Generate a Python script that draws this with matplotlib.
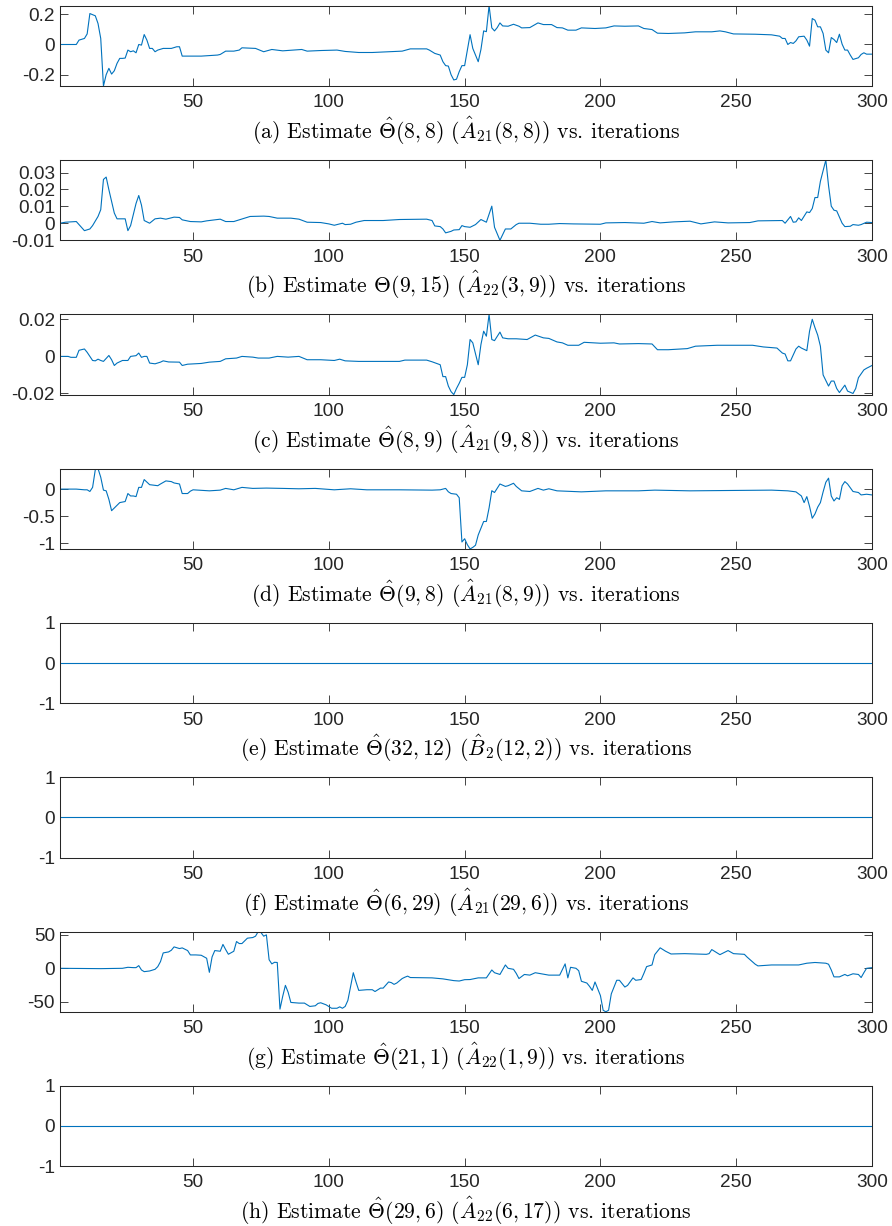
import numpy as np
import matplotlib
matplotlib.use("Agg")
import matplotlib.pyplot as plt
from matplotlib.ticker import FixedLocator, FuncFormatter

plt.rcParams["mathtext.fontset"] = "cm"
plt.rcParams["axes.unicode_minus"] = False
plt.rcParams["font.family"] = ["Liberation Sans", "DejaVu Sans"]

# ---- estimates per iteration (iteration index, value) ----
it_a = [1, 7, 8, 10, 11, 12, 14, 15, 16, 17, 18, 19, 20, 21, 22, 23, 24, 25, 26, 27, 28, 29, 30,
        31, 32, 33, 34, 35, 36, 37, 39, 42, 44, 45, 46, 48, 53, 59, 60, 62, 65, 67, 68, 73, 76, 79,
        83, 87, 90, 92, 97, 103, 106, 111, 116, 122, 127, 130, 136, 137, 139, 141, 142, 143, 144,
        145, 146, 147, 148, 149, 150, 152, 153, 155, 156, 157, 158, 159, 160, 161, 162, 163, 164,
        166, 168, 170, 171, 174, 177, 179, 182, 184, 186, 188, 191, 193, 198, 202, 205, 209, 214,
        216, 219, 221, 225, 231, 235, 241, 244, 246, 249, 257, 263, 266, 267, 268, 269, 270, 271,
        272, 273, 275, 276, 277, 278, 279, 280, 281, 282, 283, 284, 285, 286, 287, 288, 289, 290,
        291, 292, 293, 295, 296, 297, 298, 300]
theta_a = [0, 0, 0.029, 0.04, 0.07, 0.205, 0.19, 0.139, 0.04, -0.275, -0.20, -0.158, -0.196, -0.174,
           -0.125, -0.092, -0.092, -0.090, -0.037, -0.048, -0.042, -0.055, 0.0, -0.004, 0.066, 0.029,
           -0.026, -0.026, -0.048, -0.037, -0.026, -0.026, -0.015, -0.015, -0.077, -0.077, -0.077,
           -0.070, -0.066, -0.044, -0.044, -0.037, -0.022, -0.026, -0.048, -0.033, -0.042, -0.037,
           -0.033, -0.044, -0.040, -0.037, -0.046, -0.053, -0.053, -0.048, -0.044, -0.029, -0.029,
           -0.037, -0.059, -0.07, -0.114, -0.14, -0.143, -0.20, -0.235, -0.23, -0.18, -0.14, -0.14,
           0.065, -0.026, -0.114, -0.033, 0.09, 0.085, 0.257, 0.11, 0.09, 0.112, 0.143, 0.123, 0.121,
           0.134, 0.121, 0.110, 0.112, 0.143, 0.132, 0.132, 0.112, 0.110, 0.095, 0.095, 0.110, 0.106,
           0.110, 0.123, 0.121, 0.123, 0.106, 0.099, 0.075, 0.073, 0.077, 0.084, 0.084, 0.09, 0.084,
           0.07, 0.068, 0.064, 0.055, 0.040, 0.040, 0.0, 0.013, 0.007, 0.024, 0.051, 0.055, 0.029,
           -0.011, 0.172, 0.161, 0.117, 0.117, 0.073, -0.037, -0.055, 0.046, 0.033, 0.013, 0.068,
           0.002, -0.037, -0.037, -0.07, -0.099, -0.088, -0.066, -0.055, -0.064, -0.064]

it_b = [1, 3, 7, 10, 12, 13, 15, 16, 17, 18, 19, 21, 22, 23, 25, 26, 27, 29, 30, 31, 32, 34, 36,
        38, 40, 43, 45, 46, 49, 53, 55, 60, 62, 65, 67, 71, 76, 78, 81, 86, 89, 92, 97, 100, 102,
        105, 106, 108, 110, 113, 120, 126, 136, 138, 139, 141, 142, 143, 145, 146, 148, 149, 150,
        152, 154, 156, 158, 160, 161, 163, 165, 167, 169, 170, 174, 178, 181, 185, 190, 200, 202,
        209, 216, 219, 222, 227, 233, 237, 242, 247, 255, 258, 267, 268, 270, 271, 272, 273, 274,
        276, 277, 278, 279, 280, 281, 283, 284, 285, 286, 287, 289, 290, 292, 293, 295, 296, 298, 300]
theta_b = [0, 0.0006, 0.001, -0.0044, -0.0034, -0.0014, 0.004, 0.008, 0.0259, 0.0273, 0.0198, 0.006,
           0.0026, 0.0026, 0.0026, -0.0044, -0.0014, 0.0117, 0.0164, 0.0107, 0.0016, 0.0, 0.0026,
           0.003, 0.0024, 0.0036, 0.0034, 0.002, 0.001, 0.0008, 0.0014, 0.0024, 0.001, 0.001, 0.002,
           0.004, 0.0042, 0.004, 0.003, 0.003, 0.0024, 0.0006, 0.0004, -0.0004, -0.0012, 0.0, -0.0008,
           -0.0006, 0.0006, 0.0016, 0.0016, 0.0022, 0.0024, 0.0016, -0.0016, -0.002, -0.0034, -0.0057,
           -0.0048, -0.004, -0.0038, -0.0014, -0.002, -0.0024, -0.0008, 0.0022, 0.0006, 0.0101,
           -0.0024, -0.0101, -0.0034, -0.0034, -0.0008, 0.0, 0.0, -0.0006, -0.0006, -0.0002, -0.0004,
           -0.0006, 0.0002, 0.0004, 0.0, 0.001, 0.0002, 0.0008, 0.0012, -0.0004, 0.0008, 0.0002,
           0.0004, 0.0014, 0.0016, 0.0, 0.004, 0.0006, 0.0008, 0.0032, 0.0016, 0.0067, 0.0063, 0.0087,
           0.0152, 0.0152, 0.0248, 0.0374, 0.0222, 0.0101, 0.0077, 0.0073, 0.0, -0.002, -0.0018,
           -0.0008, -0.0012, -0.0008, 0.0006, 0.0004]

it_c = [1, 4, 5, 7, 8, 10, 11, 13, 14, 15, 16, 17, 19, 20, 21, 22, 24, 26, 27, 29, 30, 31, 32, 33,
        34, 36, 38, 39, 41, 45, 46, 48, 53, 56, 60, 62, 66, 68, 72, 74, 78, 81, 85, 89, 92, 97, 102,
        104, 106, 111, 120, 126, 128, 136, 138, 141, 142, 143, 144, 145, 146, 147, 148, 149, 150,
        151, 152, 153, 155, 156, 157, 158, 159, 160, 161, 163, 164, 166, 169, 173, 176, 179, 181,
        184, 186, 188, 192, 194, 200, 205, 207, 214, 219, 221, 225, 232, 235, 243, 256, 260, 265,
        267, 268, 269, 270, 272, 273, 274, 276, 277, 278, 279, 280, 281, 282, 284, 285, 286, 287,
        288, 290, 291, 293, 294, 295, 297, 298, 300]
theta_c = [0, 0, -0.0005, -0.0005, 0.0033, 0.004, 0.0022, -0.0022, -0.0024, -0.0015, -0.0022,
           -0.0027, 0.0005, -0.0018, -0.0049, -0.0036, -0.0022, -0.0022, 0.0, 0.0004, 0.0018,
           -0.0005, 0.0, 0.0, -0.0036, -0.004, -0.0031, -0.0024, -0.003, -0.0031, -0.0049, -0.0042,
           -0.0038, -0.0031, -0.0027, -0.0013, -0.0009, 0.0, -0.0004, -0.0009, -0.0009, 0.0, -0.0004,
           0.0, -0.0018, -0.0018, -0.0022, -0.0015, -0.0024, -0.0027, -0.0027, -0.0027, -0.002,
           -0.002, -0.0029, -0.0045, -0.0109, -0.0109, -0.016, -0.019, -0.0206, -0.0173, -0.0145,
           -0.0113, -0.0113, -0.0045, 0.0091, 0.0073, -0.0045, 0.0064, 0.0136, 0.0109, 0.0227, 0.0091,
           0.0085, 0.0131, 0.01, 0.0095, 0.0095, 0.0091, 0.0115, 0.01, 0.0097, 0.0078, 0.0073, 0.006,
           0.006, 0.0076, 0.0071, 0.0073, 0.0067, 0.0069, 0.0067, 0.0036, 0.0036, 0.0042, 0.0055,
           0.006, 0.006, 0.0051, 0.0045, 0.0018, 0.0013, -0.0024, -0.0024, 0.004, 0.0055, 0.0045,
           0.0031, 0.0136, 0.02, 0.0155, 0.0115, 0.0055, -0.01, -0.016, -0.0133, -0.0133, -0.0173,
           -0.0195, -0.0155, -0.0187, -0.02, -0.0173, -0.0115, -0.0073, -0.0064, -0.0049]

it_d = [1, 7, 10, 11, 12, 13, 14, 15, 16, 17, 18, 19, 20, 21, 23, 25, 26, 27, 28, 29, 30, 31, 32,
        34, 35, 37, 38, 40, 42, 43, 45, 46, 48, 49, 50, 56, 60, 62, 65, 68, 72, 77, 83, 89, 95, 102,
        108, 114, 126, 138, 141, 143, 144, 145, 147, 148, 149, 150, 151, 152, 153, 154, 155, 157,
        158, 159, 160, 161, 163, 165, 166, 168, 169, 171, 174, 177, 179, 181, 184, 193, 202, 214,
        220, 233, 249, 263, 269, 272, 274, 275, 276, 277, 278, 279, 280, 281, 282, 283, 284, 285,
        286, 287, 288, 289, 290, 291, 293, 295, 296, 298, 300]
theta_d = [0, 0, -0.013, -0.013, -0.044, 0.032, 0.36, 0.38, 0.22, -0.019, -0.032, -0.19, -0.40,
           -0.35, -0.25, -0.23, -0.082, -0.127, -0.127, -0.139, 0.032, 0.032, 0.177, 0.082, 0.076,
           0.063, 0.095, 0.152, 0.139, 0.114, 0.095, -0.082, -0.082, -0.038, -0.013, -0.032, -0.019,
           0.013, -0.013, 0.032, 0.013, 0.019, 0.013, 0.006, 0.013, -0.013, 0.006, -0.013, -0.013,
           -0.019, -0.013, 0.013, -0.05, -0.082, -0.095, -0.16, -0.98, -0.92, -1.03, -1.108, -1.08,
           -1.04, -0.85, -0.6, -0.6, -0.348, -0.03, -0.063, 0.095, 0.05, 0.063, 0.108, 0.05, -0.032,
           -0.044, 0.013, -0.019, 0.006, -0.032, -0.051, -0.032, -0.032, -0.019, -0.032, -0.025,
           -0.019, -0.032, -0.051, -0.127, -0.25, -0.139, -0.32, -0.54, -0.46, -0.335, -0.25, -0.051,
           0.127, 0.203, -0.127, -0.22, -0.16, -0.19, 0.063, 0.139, 0.095, -0.044, -0.063, -0.108,
           -0.095, -0.108]

it_g = [1, 16, 24, 26, 28, 29, 30, 31, 32, 34, 36, 37, 38, 39, 41, 42, 43, 45, 46, 48, 49, 51, 53,
        55, 56, 57, 58, 60, 61, 62, 63, 65, 66, 67, 68, 70, 72, 73, 74, 75, 76, 77, 78, 79, 80, 81,
        82, 83, 84, 85, 86, 89, 91, 93, 95, 96, 97, 99, 101, 103, 104, 105, 106, 107, 109, 110, 111,
        114, 116, 117, 119, 120, 122, 123, 124, 125, 127, 128, 129, 130, 138, 142, 146, 148, 150,
        152, 155, 158, 160, 161, 163, 165, 166, 168, 169, 170, 172, 174, 176, 181, 185, 187, 188,
        189, 191, 192, 193, 195, 196, 197, 198, 199, 200, 201, 202, 203, 204, 206, 207, 209, 210,
        212, 213, 215, 216, 217, 219, 220, 222, 224, 226, 231, 239, 240, 241, 242, 244, 247, 249,
        253, 254, 257, 258, 263, 273, 276, 279, 283, 284, 285, 286, 288, 290, 291, 293, 295, 296,
        297, 298, 300]
theta_g = [0, -0.5, 0, 1.5, 1, 1, 4, -2.5, -5, -4, -1.5, 2.5, 10, 23, 24.5, 27, 32, 29.5, 30.5, 26.5,
           20, 20, 19.5, 15, -6, 17, 26.5, 25.5, 35.7, 28, 21, 25.5, 40, 37, 37, 45, 46, 48, 55,
           53.5, 48, 50, 12.8, 6.6, 9, 8.7, -61, -42, -25.5, -35.7, -51, -52, -52, -57, -56, -52.5,
           -51.5, -54.6, -59.7, -59.7, -57.6, -59.7, -57, -48, -6.6, -20.4, -33, -32, -32, -34.7,
           -29.6, -29.6, -20.4, -21.4, -24, -22, -15.3, -13.3, -11.7, -13.8, -14.3, -15.8, -18.4,
           -19, -17, -16.8, -14.3, -14.3, -2.5, -6.6, -9.2, 5, 0, -1.5, -7.6, -15.3, -9.2, -10.2,
           -6.6, -10.2, -10.2, 6.6, -14.3, 1.5, 0, -3.6, -19.4, -22, -27, -33, -20.4, -30.6, -40.8,
           -62.7, -65, -62.7, -38.2, -17.9, -17.9, -28, -25.5, -14.3, -17.9, -16.8, -7.6, 2.5, 5,
           20.4, 30.6, 25.5, 21.4, 21.9, 20.9, 21.9, 28, 25.5, 20.4, 26.5, 21.9, 20.9, 16.8, 6.1,
           3.6, 5, 5, 7.6, 8.7, 7.6, 6.1, -2.5, -12.8, -12.8, -9.2, -11.2, -8.2, -9.2, -13.8, -6.6,
           0, 1]

# estimates that stay at zero for every iteration
it_zero = np.arange(1, 301)
theta_e = np.zeros(it_zero.size)
theta_f = np.zeros(it_zero.size)
theta_h = np.zeros(it_zero.size)

series = [
    (it_a, theta_a, [-0.2, 0, 0.2], None),
    (it_b, theta_b, [-0.01, 0, 0.01, 0.02, 0.03], None),
    (it_c, theta_c, [-0.02, 0, 0.02], None),
    (it_d, theta_d, [-1, -0.5, 0], None),
    (it_zero, theta_e, [-1, 0, 1], (-1, 1)),
    (it_zero, theta_f, [-1, 0, 1], (-1, 1)),
    (it_g, theta_g, [-50, 0, 50], None),
    (it_zero, theta_h, [-1, 0, 1], (-1, 1)),
]

captions = [
    r"(a) Estimate $\hat{\Theta}(8,8)$ $(\hat{A}_{21}(8,8))$ vs. iterations",
    r"(b) Estimate $\Theta(9,15)$ $(\hat{A}_{22}(3,9))$ vs. iterations",
    r"(c) Estimate $\hat{\Theta}(8,9)$ $(\hat{A}_{21}(9,8))$ vs. iterations",
    r"(d) Estimate $\hat{\Theta}(9,8)$ $(\hat{A}_{21}(8,9))$ vs. iterations",
    r"(e) Estimate $\hat{\Theta}(32,12)$ $(\hat{B}_{2}(12,2))$ vs. iterations",
    r"(f) Estimate $\hat{\Theta}(6,29)$ $(\hat{A}_{21}(29,6))$ vs. iterations",
    r"(g) Estimate $\hat{\Theta}(21,1)$ $(\hat{A}_{22}(1,9))$ vs. iterations",
    r"(h) Estimate $\hat{\Theta}(29,6)$ $(\hat{A}_{22}(6,17))$ vs. iterations",
]

x_ticks = [50, 100, 150, 200, 250, 300]
line_color = "#0072BD"
axis_color = "#262626"

W, H = 892, 1226
fig = plt.figure(figsize=(W / 100, H / 100), dpi=100)

left_px, width_px = 60, 812
top0, step, height_px = 5.7, 154.3, 80.3

for i, ((xs, ys, yt, ylim), cap) in enumerate(zip(series, captions)):
    top = top0 + step * i
    ax = fig.add_axes([left_px / W, 1 - (top + height_px) / H, width_px / W, height_px / H])
    ax.plot(xs, ys, color=line_color, linewidth=0.8)
    ax.set_xlim(1, 300)
    if ylim is None:
        ax.set_ylim(min(ys), max(ys))
    else:
        ax.set_ylim(*ylim)
    ax.xaxis.set_major_locator(FixedLocator(x_ticks))
    ax.yaxis.set_major_locator(FixedLocator(yt))
    ax.yaxis.set_major_formatter(FuncFormatter(lambda v, p: "%g" % v))
    for s in ax.spines.values():
        s.set_color(axis_color)
        s.set_linewidth(0.75)
    ax.tick_params(direction="in", length=5.8, width=0.6, colors=axis_color,
                   labelsize=13.7, top=True, right=True)
    ax.tick_params(axis="x", pad=6)
    ax.tick_params(axis="y", pad=3.6)
    ax.annotate(cap, xy=(0.5, 0), xycoords="axes fraction", xytext=(0, -38.2),
                textcoords="offset points", ha="center", va="baseline",
                fontsize=15.6, family="cmr10", color="black")

fig.savefig("out.png", dpi=100)
